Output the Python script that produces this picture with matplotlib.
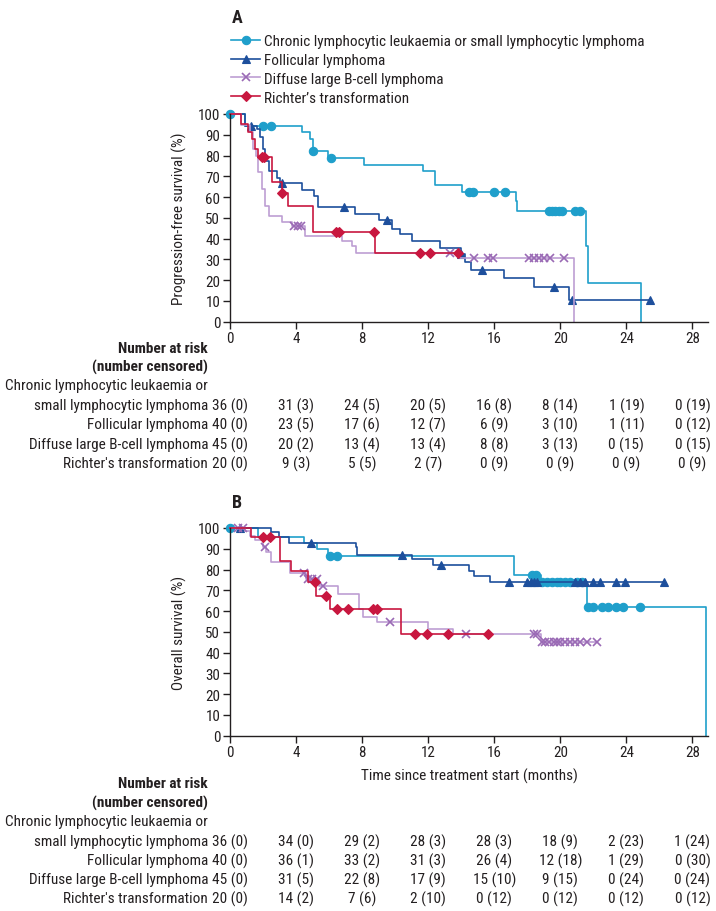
import numpy as np
import matplotlib
matplotlib.use("Agg")
import matplotlib.pyplot as plt
from matplotlib import font_manager
from matplotlib.transforms import blended_transform_factory
from matplotlib.lines import Line2D

_names = {f.name for f in font_manager.fontManager.ttflist}
if 'Roboto Condensed' in _names:
    FAM, FS, TFS = 'Roboto Condensed', 11.0, 10.8
elif 'Liberation Sans Narrow' in _names:
    FAM, FS, TFS = 'Liberation Sans Narrow', 11.0, 11.0
else:
    FAM, FS, TFS = 'Liberation Sans', 9.6, 10.0
plt.rcParams['font.family'] = [FAM, 'DejaVu Sans']

TXT = '#231f20'
COL_CLL = '#1f9fcb'
COL_FL = '#1d4f9c'
COL_DL = '#bd9ed3'
COL_DLM = '#9a6ab5'
COL_RT = '#c8173f'

series_names = ["Chronic lymphocytic leukaemia or small lymphocytic lymphoma",
                "Follicular lymphoma", "Diffuse large B-cell lymphoma",
                "Richter\u2019s transformation"]
table_labels = ["small lymphocytic lymphoma", "Follicular lymphoma",
                "Diffuse large B-cell lymphoma", "Richter's transformation"]
x_ticks = [0, 4, 8, 12, 16, 20, 24, 28]
y_ticks = [0, 10, 20, 30, 40, 50, 60, 70, 80, 90, 100]

# ---------------- Panel A: progression-free survival ----------------
cll_a_t = [0, 0.9, 4.35, 4.85, 5.0, 5.96, 8.12, 11.7, 12.4, 14.04, 17.33, 17.4, 21.58, 21.7, 24.9]
cll_a_s = [100, 94.4, 91.2, 88.0, 82.4, 78.7, 75.6, 72.7, 65.8, 62.6, 58.3, 53.4, 36.6, 18.5, 0]
cll_a_c = [0, 2.0, 2.5, 5.05, 6.1, 14.5, 14.7, 15.96, 16.67, 19.3, 19.5, 19.7, 19.9, 20.1, 20.9, 21.2]

fl_a_t = [0, 0.9, 1.65, 1.8, 1.98, 2.12, 2.38, 2.83, 3.03, 4.34, 5.09, 5.35, 7.58, 9.05, 9.8, 10.3, 11.0, 12.7, 13.98, 14.2, 14.6, 16.57, 18.4, 20.5, 25.45]
fl_a_s = [100, 94.4, 92.8, 88.8, 83.0, 77.5, 72.7, 69.0, 66.6, 63.6, 60.7, 55.0, 51.9, 49.1, 44.6, 42.2, 39.0, 35.5, 32.6, 28.9, 24.9, 21.0, 16.6, 10.6, 10.6]
fl_a_c = [1.3, 3.13, 6.9, 9.5, 14.0, 15.25, 19.6, 20.7, 25.45]

dl_a_t = [0, 0.65, 1.21, 1.41, 1.58, 1.72, 1.92, 2.12, 2.38, 3.13, 3.74, 4.55, 6.8, 7.4, 7.6, 13.94, 20.8]
dl_a_s = [100, 94.5, 91.2, 83.2, 79.9, 72.0, 63.9, 55.8, 51.0, 47.9, 46.2, 41.4, 39.0, 36.6, 33.1, 30.5, 0]
dl_a_c = [3.9, 4.1, 4.3, 13.3, 14.75, 15.6, 15.9, 18.1, 18.4, 18.7, 19.0, 19.4, 20.2]

rt_a_t = [0, 0.65, 1.11, 1.31, 1.52, 1.72, 2.52, 3.13, 3.54, 5.05, 8.79, 13.8]
rt_a_s = [100, 95.0, 91.2, 88.0, 83.0, 79.1, 67.1, 61.8, 55.8, 43.0, 33.1, 33.1]
rt_a_c = [1.92, 2.05, 3.17, 6.4, 6.6, 8.73, 11.5, 12.1, 13.8]

risk_a = [["36 (0)", "31 (3)", "24 (5)", "20 (5)", "16 (8)", "8 (14)", "1 (19)", "0 (19)"],
          ["40 (0)", "23 (5)", "17 (6)", "12 (7)", "6 (9)", "3 (10)", "1 (11)", "0 (12)"],
          ["45 (0)", "20 (2)", "13 (4)", "13 (4)", "8 (8)", "3 (13)", "0 (15)", "0 (15)"],
          ["20 (0)", "9 (3)", "5 (5)", "2 (7)", "0 (9)", "0 (9)", "0 (9)", "0 (9)"]]

# ---------------- Panel B: overall survival ----------------
cll_b_t = [0, 1.72, 4.45, 5.25, 5.96, 17.2, 18.8, 21.6, 28.8]
cll_b_s = [100, 95.5, 92.6, 89.9, 86.7, 77.5, 73.8, 62.1, 0]
cll_b_c = [0, 6.06, 6.5, 18.3, 18.5, 18.9, 19.2, 19.5, 19.8, 20.0, 20.3, 20.6, 21.0, 21.3, 21.7, 22.0, 22.5, 22.9, 23.4, 23.8, 24.8]

fl_b_t = [0, 2.47, 2.99, 3.6, 7.6, 7.7, 11.0, 12.3, 14.45, 14.75, 15.76, 26.3]
fl_b_s = [100, 98.2, 95.5, 92.6, 90.7, 87.1, 85.1, 82.3, 79.1, 77.0, 73.8, 73.8]
fl_b_c = [0.6, 4.9, 10.4, 12.8, 16.9, 18.0, 18.2, 18.4, 18.6, 20.9, 21.2, 21.5, 22.0, 22.4, 23.4, 23.9, 26.3]

dl_b_t = [0, 0.9, 1.2, 1.5, 2.0, 2.2, 2.5, 3.64, 4.6, 5.4, 6.56, 7.8, 8.08, 8.9, 11.96, 13.5, 18.8, 22.2]
dl_b_s = [100, 98.7, 96.3, 94.0, 91.0, 88.3, 83.5, 78.2, 75.5, 72.3, 68.2, 61.0, 57.0, 54.6, 51.4, 49.0, 45.0, 45.0]
dl_b_c = [0.5, 0.8, 2.12, 4.5, 4.7, 4.97, 5.25, 5.65, 9.7, 14.3, 18.4, 18.6, 18.9, 19.1, 19.3, 19.6, 19.8, 20.0, 20.3, 20.6, 20.9, 21.2, 21.6, 22.2]

rt_b_t = [0, 1.3, 3.03, 3.68, 4.75, 5.2, 6.06, 10.34, 15.65]
rt_b_s = [100, 95.8, 84.3, 79.1, 73.8, 67.4, 61.0, 49.0, 49.0]
rt_b_c = [2.0, 2.4, 5.15, 5.82, 6.5, 7.17, 8.65, 8.93, 11.2, 11.9, 13.2, 15.65]

risk_b = [["36 (0)", "34 (0)", "29 (2)", "28 (3)", "28 (3)", "18 (9)", "2 (23)", "1 (24)"],
          ["40 (0)", "36 (1)", "33 (2)", "31 (3)", "26 (4)", "12 (18)", "1 (29)", "0 (30)"],
          ["45 (0)", "31 (5)", "22 (8)", "17 (9)", "15 (10)", "9 (15)", "0 (24)", "0 (24)"],
          ["20 (0)", "14 (2)", "7 (6)", "2 (10)", "0 (12)", "0 (12)", "0 (12)", "0 (12)"]]

W, H = 716, 912
fig = plt.figure(figsize=(W / 100, H / 100), dpi=100)


def fy(py):
    return 1 - py / H


styles = [dict(color=COL_CLL, mc=COL_CLL, marker='o', ms=6, mew=0.8),
          dict(color=COL_FL, mc=COL_FL, marker='^', ms=5.5, mew=0.8),
          dict(color=COL_DL, mc=COL_DLM, marker='x', ms=5.5, mew=1.2),
          dict(color=COL_RT, mc=COL_RT, marker='D', ms=5, mew=0.8)]


def step_value(t, s, x):
    i = np.searchsorted(np.asarray(t), x, side='right') - 1
    return np.asarray(s)[max(i, 0)]


def make_panel(top_px, bottom_px, curves, ylabel):
    ax = fig.add_axes([230 / W, fy(bottom_px), (708 - 230) / W, (bottom_px - top_px) / H])
    for (t, s, c), st in zip(curves, styles):
        ax.plot(t, s, drawstyle='steps-post', color=st['color'], lw=1.2, clip_on=False)
        cy = [step_value(t, s, x) for x in c]
        ax.plot(c, cy, ls='none', marker=st['marker'], ms=st['ms'], mec=st['mc'],
                mfc=st['mc'], mew=st['mew'], clip_on=False)
    ax.set_xlim(0, 28.94)
    ax.set_ylim(0, 100)
    ax.set_xticks(x_ticks)
    ax.set_yticks(y_ticks)
    for sp in ['top', 'right']:
        ax.spines[sp].set_visible(False)
    for sp in ['left', 'bottom']:
        ax.spines[sp].set_color(TXT)
        ax.spines[sp].set_linewidth(1.0)
    ax.tick_params(direction='out', length=5, width=1, colors=TXT, labelsize=TFS, pad=2)
    ax.set_ylabel(ylabel, fontsize=FS, color=TXT, labelpad=8)
    return ax


def risk_table(ax, rows_px, data, head_px):
    tr = blended_transform_factory(ax.transData, fig.transFigure)
    fig.text(208 / W, fy(head_px[0]), "Number at risk", ha='right', va='center',
             fontsize=FS, fontweight='bold', color=TXT)
    fig.text(208 / W, fy(head_px[1]), "(number censored)", ha='right', va='center',
             fontsize=FS, fontweight='bold', color=TXT)
    fig.text(208 / W, fy(rows_px[0] - 20), "Chronic lymphocytic leukaemia or", ha='right',
             va='center', fontsize=FS, color=TXT)
    for r, (lab, vals) in enumerate(zip(table_labels, data)):
        fig.text(208 / W, fy(rows_px[r]), lab, ha='right', va='center', fontsize=FS, color=TXT)
        for x, v in zip(x_ticks, vals):
            ax.text(x, fy(rows_px[r]), v, transform=tr, ha='center', va='center',
                    fontsize=FS, color=TXT)


axA = make_panel(115, 322.7,
                 [(cll_a_t, cll_a_s, cll_a_c), (fl_a_t, fl_a_s, fl_a_c),
                  (dl_a_t, dl_a_s, dl_a_c), (rt_a_t, rt_a_s, rt_a_c)],
                 "Progression-free survival (%)")
axB = make_panel(529, 736.7,
                 [(cll_b_t, cll_b_s, cll_b_c), (fl_b_t, fl_b_s, fl_b_c),
                  (dl_b_t, dl_b_s, dl_b_c), (rt_b_t, rt_b_s, rt_b_c)],
                 "Overall survival (%)")
axB.set_xlabel("Time since treatment start (months)", fontsize=FS, color=TXT, labelpad=6)

risk_table(axA, [406, 425, 445, 464], risk_a, [349, 367])
risk_table(axB, [842, 861, 880, 899], risk_b, [784, 803])

fig.text(237 / W, fy(18), "A", ha='center', va='center', fontsize=13, fontweight='bold', color=TXT)
fig.text(237 / W, fy(503), "B", ha='center', va='center', fontsize=13, fontweight='bold', color=TXT)

handles = [Line2D([], [], color=st['color'], lw=1.2, marker=st['marker'], ms=st['ms'],
                  mec=st['mc'], mfc=st['mc'], mew=st['mew']) for st in styles]
fig.legend(handles, series_names, loc='upper left', bbox_to_anchor=(231 / W, fy(35)),
           bbox_transform=fig.transFigure, frameon=False, fontsize=FS,
           handlelength=1.9, handletextpad=0.25, labelspacing=0.32, borderpad=0,
           borderaxespad=0, labelcolor=TXT)

fig.savefig("out.png", dpi=100, facecolor='white')
